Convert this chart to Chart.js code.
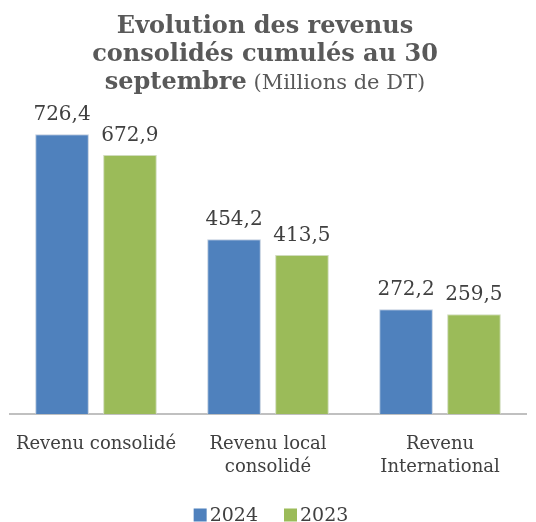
<!DOCTYPE html>
<html>
<head>
<meta charset="utf-8">
<script src="https://cdn.jsdelivr.net/npm/chart.js@4"></script>
<style>
  html, body { margin: 0; padding: 0; background: #fff; }
  #wrap { width: 536px; height: 522px; }
</style>
</head>
<body>
<div id="wrap"><canvas id="chart" width="536" height="522"></canvas></div>
<script>
// Evolution des revenus consolidés cumulés au 30 septembre

const categories = [['Revenu consolidé'], ['Revenu local', 'consolidé'], ['Revenu', 'International']];
const series2024 = [726.4, 454.2, 272.2];
const series2023 = [672.9, 413.5, 259.5];
const seriesNames = ['2024', '2023'];
const seriesColors = ['#4F81BD', '#9BBB59'];

const SERIF = "'DejaVu Serif', Georgia, serif";
const TEXT = '#404040';

// Title drawn by hand: bold lines plus a regular "(Millions de DT)"
const titlePlugin = {
    id: 'titleLines',
    afterDraw(chart) {
        const ctx = chart.ctx;
        const cx = chart.width / 2 - 3;
        ctx.save();
        ctx.fillStyle = '#595959';
        ctx.textBaseline = 'alphabetic';
        ctx.textAlign = 'center';
        ctx.font = "bold 24px " + SERIF;
        ctx.fillText('Evolution des revenus', cx, 33);
        ctx.fillText('consolidés cumulés au 30', cx, 61);

        const boldPart = 'septembre';
        const regPart = ' (Millions de DT)';
        ctx.font = "bold 24px " + SERIF;
        const w1 = ctx.measureText(boldPart).width;
        ctx.font = "21px " + SERIF;
        const w2 = ctx.measureText(regPart).width;
        let x = cx - (w1 + w2) / 2;
        ctx.textAlign = 'left';
        ctx.font = "bold 24px " + SERIF;
        ctx.fillText(boldPart, x, 89);
        ctx.font = "21px " + SERIF;
        ctx.fillText(regPart, x + w1, 89);
        ctx.restore();
    }
};

// Value labels above each bar, comma decimal
const valueLabels = {
    id: 'valueLabels',
    afterDatasetsDraw(chart) {
        const ctx = chart.ctx;
        ctx.save();
        ctx.fillStyle = TEXT;
        ctx.font = "20px " + SERIF;
        ctx.textAlign = 'center';
        ctx.textBaseline = 'alphabetic';
        chart.data.datasets.forEach((ds, i) => {
            chart.getDatasetMeta(i).data.forEach((bar, j) => {
                const txt = ds.data[j].toFixed(1).replace('.', ',');
                ctx.fillText(txt, bar.x, bar.y - 14);
            });
        });
        ctx.restore();
    }
};

// Legend at the very bottom, squares + year
const bottomLegend = {
    id: 'bottomLegend',
    afterDraw(chart) {
        const ctx = chart.ctx;
        ctx.save();
        ctx.font = "19px " + SERIF;
        ctx.textBaseline = 'middle';
        ctx.textAlign = 'left';
        const box = 13, gapText = 3, gapItem = 26;
        const widths = seriesNames.map(n => box + gapText + ctx.measureText(n).width);
        const total = widths.reduce((a, b) => a + b, 0) + gapItem;
        let x = chart.width / 2 - total / 2 + 3;
        const y = 515;
        seriesNames.forEach((n, i) => {
            ctx.fillStyle = seriesColors[i];
            ctx.fillRect(x, y - box / 2, box, box);
            ctx.fillStyle = TEXT;
            ctx.fillText(n, x + box + gapText, y + 1);
            x += widths[i] + gapItem;
        });
        ctx.restore();
    }
};

new Chart(document.getElementById('chart'), {
    type: 'bar',
    data: {
        labels: categories,
        datasets: [
            {
                label: seriesNames[0],
                data: series2024,
                backgroundColor: seriesColors[0],
                borderColor: '#BFCCDD',
                borderWidth: 1
            },
            {
                label: seriesNames[1],
                data: series2023,
                backgroundColor: seriesColors[1],
                borderColor: '#D0DCBC',
                borderWidth: 1
            }
        ]
    },
    options: {
        responsive: false,
        animation: false,
        layout: { padding: { top: 106, left: 10, right: 10, bottom: 33 } },
        datasets: {
            bar: { categoryPercentage: 0.79, barPercentage: 0.79 }
        },
        plugins: {
            legend: { display: false },
            title: { display: false },
            tooltip: { enabled: false }
        },
        scales: {
            x: {
                grid: { display: false },
                border: { color: '#C0C0C0', width: 2 },
                ticks: {
                    color: TEXT,
                    font: { family: SERIF, size: 18, lineHeight: 1.3 },
                    maxRotation: 0,
                    padding: 10
                }
            },
            y: {
                display: false,
                min: 0,
                max: 800
            }
        }
    },
    plugins: [titlePlugin, valueLabels, bottomLegend]
});
</script>
</body>
</html>
